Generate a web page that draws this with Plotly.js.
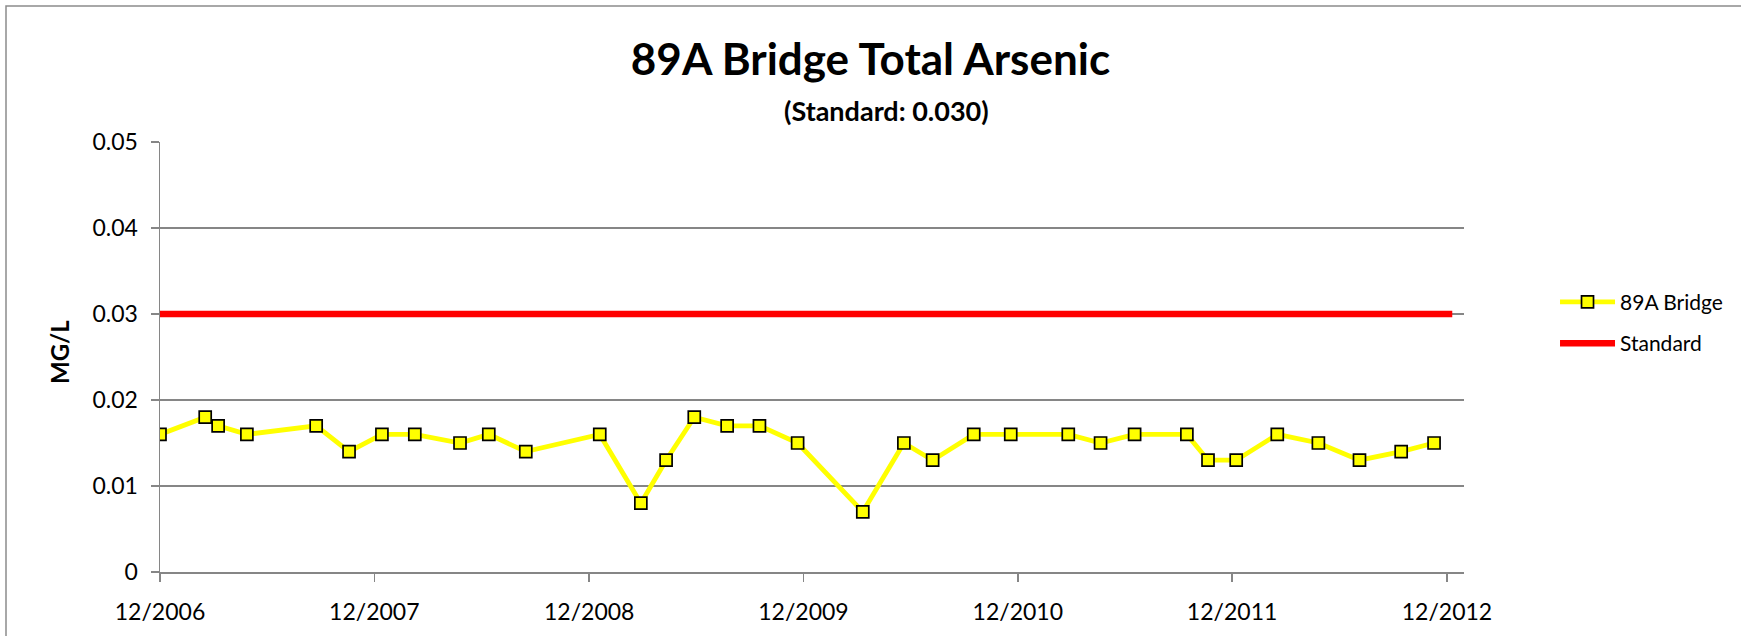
<!DOCTYPE html>
<html>
<head>
<meta charset="utf-8">
<script src="https://cdn.plot.ly/plotly-3.0.1.min.js"></script>
<style>html,body{margin:0;padding:0;background:#fff;}#chart{width:1741px;height:636px;}</style>
</head>
<body>
<div id="chart"></div>
<script>
// ---- data ----
const sampleDates = [
  "2006-12-01","2007-02-16","2007-03-10","2007-04-28","2007-08-24","2007-10-19",
  "2007-12-14","2008-02-08","2008-04-25","2008-06-13","2008-08-15","2008-12-19",
  "2009-02-27","2009-04-11","2009-05-29","2009-07-24","2009-09-17","2009-11-21",
  "2010-03-12","2010-05-21","2010-07-09","2010-09-17","2010-11-19","2011-02-25",
  "2011-04-21","2011-06-18","2011-09-15","2011-10-21","2011-12-08","2012-02-16",
  "2012-04-26","2012-07-05","2012-09-14","2012-11-09"
];
const arsenicValues = [
  0.016,0.018,0.017,0.016,0.017,0.014,
  0.016,0.016,0.015,0.016,0.014,0.016,
  0.008,0.013,0.018,0.017,0.017,0.015,
  0.007,0.015,0.013,0.016,0.016,0.016,
  0.015,0.016,0.016,0.013,0.013,0.016,
  0.015,0.013,0.014,0.015
];
const standardDates = ["2006-12-01","2012-12-10"];
const standardValues = [0.030, 0.030];
const tickDates = ["2006-12-01","2007-12-01","2008-12-01","2009-12-01","2010-12-01","2011-12-01","2012-12-01"];
const tickLabels = ["12/2006","12/2007","12/2008","12/2009","12/2010","12/2011","12/2012"];
const seriesNames = ["89A Bridge","Standard"];
const titleText = "89A Bridge Total Arsenic";
const subtitleText = "(Standard: 0.030)";
const yTitle = "MG/L";

// ---- chart ----
const FONT = "Lato, 'Open Sans', sans-serif";
const GRID = "#868686";

const traces = [
  {
    x: sampleDates, y: arsenicValues, name: seriesNames[0], type: "scatter",
    mode: "lines+markers", legendgroup: "a",
    line: {color: "#FFFF00", width: 4.8},
    marker: {symbol: "square", size: 12, color: "#FFFF00", line: {color: "#000000", width: 1.7}}
  },
  {
    x: standardDates, y: standardValues, name: seriesNames[1], type: "scatter",
    mode: "lines", legendgroup: "b",
    line: {color: "#FF0000", width: 6.5}
  }
];

const layout = {
  width: 1741, height: 636,
  margin: {l: 160, r: 277, t: 142, b: 64, pad: 0},
  paper_bgcolor: "#ffffff", plot_bgcolor: "#ffffff",
  font: {family: FONT, color: "#000000"},
  title: {
    text: titleText, x: 0.5, xref: "container", xanchor: "center",
    y: 1 - 60/636, yref: "container", yanchor: "middle",
    font: {family: FONT, size: 44, weight: "bold", color: "#000000"}
  },
  showlegend: true,
  legend: {
    x: 1.0698, xanchor: "left", y: 0.675, yanchor: "top",
    font: {family: FONT, size: 21, color: "#000000"},
    traceorder: "grouped", tracegroupgap: 11,
    itemwidth: 55, bgcolor: "rgba(0,0,0,0)", borderwidth: 0
  },
  xaxis: {
    type: "date", range: ["2006-12-01","2012-12-30"],
    tickmode: "array", tickvals: tickDates, ticktext: tickLabels,
    ticks: "outside", ticklen: 8, tickwidth: 1.5, tickcolor: GRID,
    showline: true, linecolor: GRID, linewidth: 1.5,
    showgrid: false, zeroline: false,
    tickfont: {family: FONT, size: 23, color: "#000000"},
    ticklabelstandoff: 11
  },
  yaxis: {
    range: [0, 0.05], tick0: 0, dtick: 0.01,
    ticks: "outside", ticklen: 8, tickwidth: 1.5, tickcolor: GRID,
    showline: true, linecolor: GRID, linewidth: 1.5,
    showgrid: true, gridcolor: GRID, gridwidth: 1.5, zeroline: false,
    tickfont: {family: FONT, size: 23, color: "#000000"},
    ticklabelstandoff: 8
  },
  annotations: [
    {
      text: subtitleText, xref: "paper", yref: "paper",
      x: (886 - 160) / 1304, y: (572 - 110) / 430, xanchor: "center", yanchor: "middle",
      showarrow: false, font: {family: FONT, size: 27, weight: "bold", color: "#000000"}
    },
    {
      text: yTitle, xref: "paper", yref: "paper",
      x: (59 - 160) / 1304, y: (572 - 352) / 430, xanchor: "center", yanchor: "middle",
      textangle: -90, showarrow: false,
      font: {family: FONT, size: 24, weight: "bold", color: "#000000"}
    }
  ],
  shapes: [
    {
      type: "rect", xref: "paper", yref: "paper", layer: "below",
      x0: (6 - 160) / 1304, x1: 1.5, y0: -0.5, y1: (572 - 6) / 430,
      line: {color: "#8c8c8c", width: 1.5}, fillcolor: "rgba(0,0,0,0)"
    }
  ]
};

Plotly.newPlot("chart", traces, layout, {staticPlot: true, displayModeBar: false});
</script>
</body>
</html>
